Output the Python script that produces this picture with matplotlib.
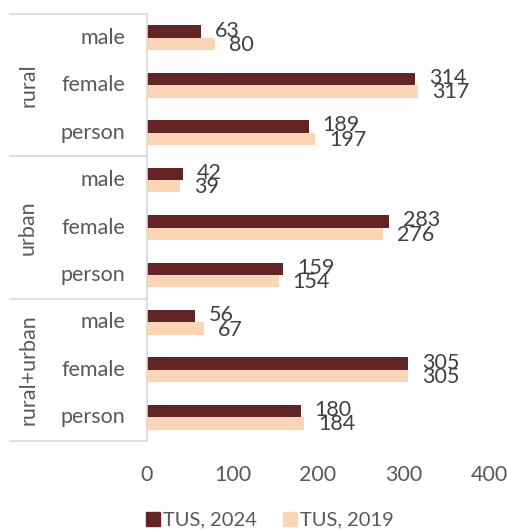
import matplotlib
matplotlib.use("Agg")
import matplotlib.pyplot as plt
from matplotlib.lines import Line2D
import numpy as np

plt.rcParams['font.family'] = ['Lato', 'DejaVu Sans']

groups = ["rural", "urban", "rural+urban"]
categories = ["male", "female", "person"]
tus_2024 = [63, 314, 189, 42, 283, 159, 56, 305, 180]
tus_2019 = [80, 317, 197, 39, 276, 154, 67, 305, 184]
series_names = ["TUS, 2024", "TUS, 2019"]
xticks = [0, 100, 200, 300, 400]

dark = "#632523"
light = "#FCD5B5"
txt = "#595959"
lbl = "#404040"
fs = 15.5

W, H = 507, 531
fig = plt.figure(figsize=(W / 100, H / 100), dpi=100)
left, right, top, bottom = 147, 489, 14, 441
ax = fig.add_axes([left / W, 1 - bottom / H, (right - left) / W, (bottom - top) / H])

n = len(tus_2024)
y = np.arange(n)
bh = 0.26
ax.barh(y - bh / 2, tus_2024, height=bh, color=dark, label=series_names[0])
ax.barh(y + bh / 2, tus_2019, height=bh, color=light, label=series_names[1])

for yi, v in zip(y, tus_2024):
    ax.annotate(str(v), (v, yi - bh / 2 - 0.02), xytext=(10, 0), textcoords="offset points",
                va="center", ha="left", fontsize=fs, color=lbl)
for yi, v in zip(y, tus_2019):
    ax.annotate(str(v), (v, yi + bh / 2 + 0.02), xytext=(10, 0), textcoords="offset points",
                va="center", ha="left", fontsize=fs, color=lbl)

ax.set_xlim(0, 400)
ax.set_ylim(n - 0.5, -0.5)
ax.set_xticks(xticks)
ax.set_xticklabels([str(t) for t in xticks], fontsize=fs, color=txt)
ax.tick_params(axis="x", length=0, pad=17)
ax.set_yticks([])
for s in ax.spines.values():
    s.set_visible(False)

# category table on the left
line_col = "#D9D9D9"
trans = ax.get_yaxis_transform()
ax.plot([0, 0], [-0.5, n - 0.5], color=line_col, lw=1.2, transform=trans, clip_on=False)
x_tab_left = -(left - 10) / (right - left)
for b in [-0.5, 2.5, 5.5, 8.5]:
    ax.plot([x_tab_left, 0], [b, b], color=line_col, lw=1.2, transform=trans, clip_on=False)

x_cat = -(left - 125) / (right - left)
for i in range(n):
    ax.text(x_cat, i, categories[i % 3], ha="right", va="center", fontsize=fs,
            color=txt, transform=trans)
x_grp = -(left - 28) / (right - left)
for g, name in enumerate(groups):
    ax.text(x_grp, g * 3 + 1, name, ha="center", va="center", rotation=90,
            fontsize=fs, color=txt, transform=trans)

handles = [Line2D([], [], marker="s", linestyle="none", markersize=10, color=dark),
           Line2D([], [], marker="s", linestyle="none", markersize=10, color=light)]
fig.legend(handles, series_names, loc="center", bbox_to_anchor=(270 / W, 1 - 520 / H),
           ncol=2, frameon=False, fontsize=14.5, labelcolor=txt, handletextpad=0.15,
           columnspacing=1.3, handlelength=0.7)

fig.savefig("out.png", dpi=100)
